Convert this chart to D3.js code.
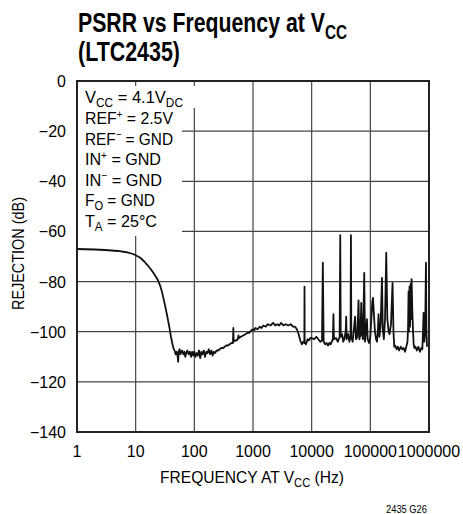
<!DOCTYPE html>
<html>
<head>
<meta charset="utf-8">
<script src="https://cdn.jsdelivr.net/npm/d3@7.9.0/dist/d3.min.js"></script>
<style>
  html, body { margin: 0; padding: 0; background: #fff; }
  svg { display: block; }
</style>
</head>
<body>
<svg id="chart" width="463" height="514"></svg>
<script>
// ticks
const xTicks = [1, 10, 100, 1000, 10000, 100000, 1000000];
const yTicks = [0, -20, -40, -60, -80, -100, -120, -140];

// rolloff from the flat low-frequency region down to the noise floor
const rolloff = [
  [1, -67], [2, -67.2], [3, -67.4], [5, -67.8], [7, -68.3], [9, -69], [10, -69.5],
  [12, -70.5], [14, -72], [16, -73.5], [18, -75], [20, -76.5], [22, -78], [24, -79.5],
  [26, -81.5], [28, -84], [30, -87], [32, -90], [34, -93], [36, -96], [38, -99],
  [40, -102], [42, -104.5], [44, -106.5], [46, -107.5]
];

// noisy floor 48 Hz .. 1 kHz
const noiseFloor = [
  [48, -109], [50, -108], [52, -110], [53, -112], [54, -108], [56, -107], [58, -109],
  [60, -108], [62, -107.5], [65, -109], [68, -108], [70, -110], [73, -108.5], [76, -107.5],
  [80, -109], [84, -108], [88, -110], [92, -108], [96, -109.5], [100, -108], [105, -110],
  [110, -108.5], [115, -109.5], [120, -107.5], [126, -110.5], [132, -108], [138, -109],
  [145, -107.5], [152, -110], [160, -108], [168, -108.5], [176, -107], [185, -109],
  [195, -107.5], [205, -109.5], [215, -108], [225, -108.5], [240, -107.5], [255, -107.5],
  [270, -107], [290, -106.5], [310, -106.5], [330, -106], [350, -105.5], [375, -105.5],
  [400, -105], [430, -104.5], [455, -104.5], [462, -98.5], [468, -104], [490, -103.5],
  [520, -103.5], [550, -103], [565, -101.5], [580, -102.5], [620, -102], [680, -101.5],
  [740, -101], [800, -100.5], [860, -100.5], [930, -99.5], [1000, -99]
];

// plateau 1 kHz .. 10 kHz
const plateau = [
  [1050, -99.5], [1100, -98.5], [1200, -99], [1300, -98], [1400, -98.5], [1500, -97.5],
  [1650, -98], [1800, -97], [2000, -97.5], [2200, -96.5], [2400, -97.5], [2600, -97],
  [2800, -97.5], [3000, -96.5], [3300, -97.5], [3600, -97], [4000, -97.5], [4400, -97],
  [4800, -98], [5200, -98], [5600, -99], [6000, -101], [6400, -103.5], [6800, -105],
  [7200, -104], [7500, -104.5], [7550, -82], [7600, -104], [8000, -105], [8500, -103],
  [9000, -103.5], [9500, -102.5], [10000, -102.5]
];

// spurs 10 kHz .. 1 MHz
const spurs = [
  [11000, -103], [12000, -102], [13000, -103], [14000, -104], [15000, -103.5],
  [15500, -72.5], [16000, -104], [17000, -105], [18000, -104.5], [19000, -105.5],
  [20000, -104.5], [21000, -105], [22000, -104], [23000, -103], [23500, -93], [24000, -103],
  [26000, -102.5], [28000, -104], [30000, -102], [30700, -61.5], [31300, -102], [33000, -101],
  [34500, -104], [36000, -103], [38000, -100], [38800, -94], [39500, -103], [42000, -101],
  [44000, -104], [46000, -102], [46700, -61.5], [47400, -102], [50000, -104], [52000, -100],
  [55000, -94], [57000, -103], [60000, -102], [62900, -87.5], [65000, -103], [68000, -101],
  [70000, -88.5], [72000, -101], [75000, -103], [78700, -76.5], [81000, -104], [84000, -100],
  [87500, -95], [90000, -103], [95000, -104.5], [100000, -102], [104000, -95], [108000, -88],
  [111000, -86.5], [115000, -93], [120000, -100], [125000, -103], [130000, -104],
  [134000, -100], [138000, -93], [143000, -102], [150000, -97], [157800, -78.5],
  [163000, -99], [170000, -103], [178000, -95], [186700, -68.5], [195000, -95],
  [205000, -100], [212700, -101], [225000, -97], [239200, -80.5], [248000, -100],
  [255600, -106], [265000, -105.5], [280000, -107], [295000, -106], [310000, -107.5],
  [330000, -106], [350000, -107], [370000, -106.5], [390000, -108], [410000, -106],
  [430000, -104], [440000, -98], [448000, -84], [455000, -100], [465000, -82],
  [475000, -98], [485000, -81], [495000, -95], [505000, -79], [520000, -92],
  [535000, -100], [548000, -105], [565000, -106.5], [590000, -106], [620000, -107.5],
  [660000, -106], [700000, -108], [740000, -106.5], [770000, -107], [790000, -100],
  [808000, -92.5], [830000, -104], [860000, -100], [887000, -72.5], [905000, -100],
  [925000, -106]
];

const legendLines = [
  [["V"], ["CC", "sub"], [" = 4.1V"], ["DC", "sub"]],
  [["REF"], ["+", "sup"], [" = 2.5V"]],
  [["REF"], ["\u2212", "sup"], [" = GND"]],
  [["IN"], ["+", "sup"], [" = GND"]],
  [["IN"], ["\u2212", "sup"], [" = GND"]],
  [["F"], ["O", "sub"], [" = GND"]],
  [["T"], ["A", "sub"], [" = 25\u00b0C"]]
];
const legendWidths = [98, 88, 88, 76, 77, 70, 72];

const svg = d3.select("#chart");
const width = +svg.attr("width"),
  height = +svg.attr("height");
const margin = { top: 81, right: 34, bottom: 82, left: 77 };

const font = "'Liberation Sans', Arial, sans-serif";

const x = d3.scaleLog()
  .domain([1, 1e6])
  .range([margin.left, width - margin.right]);

const y = d3.scaleLinear()
  .domain([-140, 0])
  .range([height - margin.bottom, margin.top]);

// text with sub/superscript parts, squeezed to a given width
function rich(sel, parts, size, len) {
  let shift = 0;
  parts.forEach(([t, kind]) => {
    let target = 0, fs = size;
    if (kind === "sub") { target = size * 0.25; fs = size * 0.72; }
    if (kind === "sup") { target = -size * 0.38; fs = size * 0.62; }
    const ts = sel.append("tspan").attr("font-size", fs).text(t);
    if (target !== shift) ts.attr("dy", target - shift);
    shift = target;
  });
  if (len) sel.attr("textLength", len).attr("lengthAdjust", "spacingAndGlyphs");
}

// grid
svg.append("g")
  .attr("stroke", "#444")
  .attr("stroke-width", 1.2)
  .call(g => g.selectAll("line.v")
    .data(xTicks.slice(1, -1))
    .join("line")
    .attr("x1", d => x(d)).attr("x2", d => x(d))
    .attr("y1", y(0)).attr("y2", y(-140)))
  .call(g => g.selectAll("line.h")
    .data(yTicks.slice(1, -1))
    .join("line")
    .attr("x1", x(1)).attr("x2", x(1e6))
    .attr("y1", d => y(d)).attr("y2", d => y(d)));

// white box behind the conditions text
svg.append("rect")
  .attr("x", x(1) + 1).attr("y", y(0) + 5)
  .attr("width", 104).attr("height", 150)
  .attr("fill", "#fff");
svg.append("rect")
  .attr("x", x(1) + 1).attr("y", y(0) + 5)
  .attr("width", 120).attr("height", 22)
  .attr("fill", "#fff");

// frame
svg.append("rect")
  .attr("x", x(1)).attr("y", y(0))
  .attr("width", x(1e6) - x(1))
  .attr("height", y(-140) - y(0))
  .attr("fill", "none")
  .attr("stroke", "#222")
  .attr("stroke-width", 2);

// curve
const allPoints = rolloff.concat(noiseFloor, plateau, spurs);
svg.append("path")
  .datum(allPoints)
  .attr("fill", "none")
  .attr("stroke", "#111")
  .attr("stroke-width", 1.8)
  .attr("stroke-linejoin", "round")
  .attr("d", d3.line().x(d => x(d[0])).y(d => y(d[1])));

// tick labels
svg.append("g")
  .selectAll("text")
  .data(yTicks)
  .join("text")
  .attr("x", margin.left - 11)
  .attr("y", d => y(d) + 6)
  .attr("text-anchor", "end")
  .style("font-family", font)
  .style("font-size", "16px")
  .text(d => d === 0 ? "0" : "\u2212" + Math.abs(d));

svg.append("g")
  .selectAll("text")
  .data(xTicks)
  .join("text")
  .attr("x", d => x(d))
  .attr("y", height - margin.bottom + 25)
  .attr("text-anchor", "middle")
  .style("font-family", font)
  .style("font-size", "16px")
  .text(d => String(d));

// axis titles
const xt = svg.append("text")
  .attr("x", 160)
  .attr("y", 483)
  .style("font-family", font);
rich(xt, [["FREQUENCY AT V"], ["CC", "sub"], [" (Hz)"]], 17, 184);

svg.append("text")
  .attr("transform", "rotate(-90)")
  .attr("x", -310)
  .attr("y", 24)
  .attr("textLength", 113)
  .attr("lengthAdjust", "spacingAndGlyphs")
  .style("font-family", font)
  .style("font-size", "17px")
  .text("REJECTION (dB)");

// conditions
const lineY = [103, 124, 144.5, 165, 185.5, 206, 226.5];
legendLines.forEach((parts, i) => {
  const t = svg.append("text")
    .attr("x", 85)
    .attr("y", lineY[i])
    .style("font-family", font);
  rich(t, parts, 17, legendWidths[i]);
});

// title
const t1 = svg.append("text")
  .attr("x", 78).attr("y", 32)
  .style("font-family", font)
  .style("font-weight", "bold");
rich(t1, [["PSRR vs Frequency at V"], ["CC", "sub"]], 27, 269);

svg.append("text")
  .attr("x", 78).attr("y", 61)
  .attr("textLength", 102)
  .attr("lengthAdjust", "spacingAndGlyphs")
  .style("font-family", font)
  .style("font-weight", "bold")
  .style("font-size", "27px")
  .text("(LTC2435)");

svg.append("text")
  .attr("x", 386).attr("y", 513)
  .attr("textLength", 41)
  .attr("lengthAdjust", "spacingAndGlyphs")
  .style("font-family", font)
  .style("font-size", "10px")
  .text("2435 G26");
</script>
</body>
</html>
